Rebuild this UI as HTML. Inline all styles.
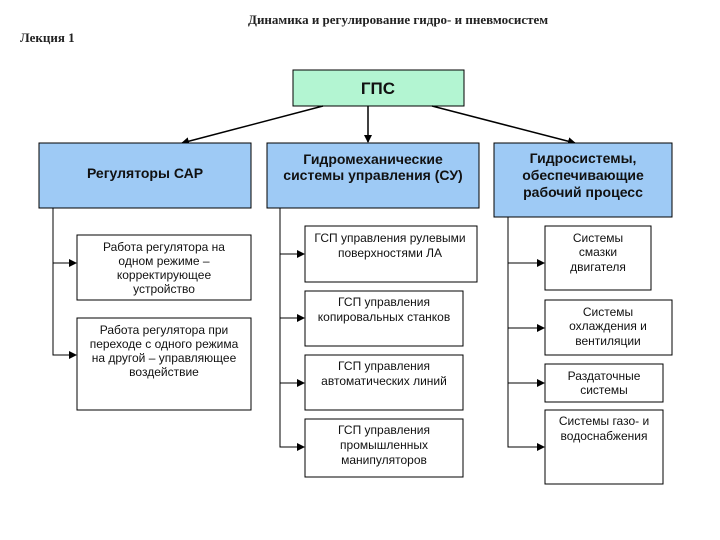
<!DOCTYPE html>
<html><head><meta charset="utf-8"><style>
body{margin:0;background:#fff;}
svg{display:block}
.s{font-family:"Liberation Sans","DejaVu Sans",sans-serif;font-size:12px;fill:#111;text-anchor:middle}
.b{font-family:"Liberation Sans","DejaVu Sans",sans-serif;font-size:14px;font-weight:bold;fill:#111;text-anchor:middle}
.t{font-family:"Liberation Serif","DejaVu Serif",serif;font-size:13px;font-weight:bold;fill:#222}
</style></head><body>
<svg width="720" height="540" viewBox="0 0 720 540">
<defs><marker id="a" markerWidth="8" markerHeight="8" refX="7" refY="4" orient="auto" markerUnits="userSpaceOnUse"><path d="M0,0 L8,4 L0,8 Z" fill="#000"/></marker></defs>
<text class="t" x="248" y="24">Динамика и регулирование гидро- и пневмосистем</text>
<text class="t" x="20" y="42">Лекция 1</text>
<rect x="293" y="70" width="171" height="36" fill="#b3f5d2" stroke="#000"/>
<text class="b" x="378" y="94" style="font-size:17px">ГПС</text>
<g stroke="#000" stroke-width="1.5" fill="none">
<line x1="323" y1="106" x2="182" y2="143" marker-end="url(#a)"/>
<line x1="368" y1="106" x2="368" y2="142" marker-end="url(#a)"/>
<line x1="432" y1="106" x2="575" y2="143" marker-end="url(#a)"/>
</g>
<g fill="#9ecaf5" stroke="#000">
<rect x="39" y="143" width="212" height="65"/>
<rect x="267" y="143" width="212" height="65"/>
<rect x="494" y="143" width="178" height="74"/>
</g>
<text class="b" x="145" y="178">Регуляторы САР</text>
<text class="b" x="373" y="164">Гидромеханические</text>
<text class="b" x="373" y="180">системы управления (СУ)</text>
<text class="b" x="583" y="163">Гидросистемы,</text>
<text class="b" x="583" y="180">обеспечивающие</text>
<text class="b" x="583" y="197">рабочий процесс</text>
<g stroke="#000" stroke-width="1" fill="none">
<polyline points="53,208 53,355 76,355"/>
<line x1="53" y1="263" x2="76" y2="263"/>
<polyline points="280,208 280,447 304,447"/>
<line x1="280" y1="254" x2="304" y2="254"/>
<line x1="280" y1="318" x2="304" y2="318"/>
<line x1="280" y1="383" x2="304" y2="383"/>
<polyline points="508,217 508,447 544,447"/>
<line x1="508" y1="263" x2="544" y2="263"/>
<line x1="508" y1="328" x2="544" y2="328"/>
<line x1="508" y1="383" x2="544" y2="383"/>
</g>
<g fill="#000">
<path d="M69,259 L77,263 L69,267Z"/><path d="M69,351 L77,355 L69,359Z"/>
<path d="M297,250 L305,254 L297,258Z"/><path d="M297,314 L305,318 L297,322Z"/>
<path d="M297,379 L305,383 L297,387Z"/><path d="M297,443 L305,447 L297,451Z"/>
<path d="M537,259 L545,263 L537,267Z"/><path d="M537,324 L545,328 L537,332Z"/>
<path d="M537,379 L545,383 L537,387Z"/><path d="M537,443 L545,447 L537,451Z"/>
</g>
<g fill="#fff" stroke="#000">
<rect x="77" y="235" width="174" height="65"/>
<rect x="77" y="318" width="174" height="92"/>
<rect x="305" y="226" width="172" height="56"/>
<rect x="305" y="291" width="158" height="55"/>
<rect x="305" y="355" width="158" height="55"/>
<rect x="305" y="419" width="158" height="58"/>
<rect x="545" y="226" width="106" height="64"/>
<rect x="545" y="300" width="127" height="55"/>
<rect x="545" y="364" width="118" height="38"/>
<rect x="545" y="410" width="118" height="74"/>
</g>
<g class="s">
<text x="164" y="251">Работа регулятора на</text>
<text x="164" y="265">одном режиме –</text>
<text x="164" y="279">корректирующее</text>
<text x="164" y="293">устройство</text>
<text x="164" y="334">Работа регулятора при</text>
<text x="164" y="348">переходе с одного режима</text>
<text x="164" y="362">на другой – управляющее</text>
<text x="164" y="376">воздействие</text>
<text x="390" y="242">ГСП управления рулевыми</text>
<text x="390" y="257">поверхностями ЛА</text>
<text x="384" y="306">ГСП управления</text>
<text x="384" y="321">копировальных станков</text>
<text x="384" y="370">ГСП управления</text>
<text x="384" y="385">автоматических линий</text>
<text x="384" y="434">ГСП управления</text>
<text x="384" y="449">промышленных</text>
<text x="384" y="464">манипуляторов</text>
<text x="598" y="242">Системы</text>
<text x="598" y="256">смазки</text>
<text x="598" y="271">двигателя</text>
<text x="608" y="316">Системы</text>
<text x="608" y="330">охлаждения и</text>
<text x="608" y="345">вентиляции</text>
<text x="604" y="380">Раздаточные</text>
<text x="604" y="394">системы</text>
<text x="604" y="425">Системы газо- и</text>
<text x="604" y="440">водоснабжения</text>
</g>
</svg>
</body></html>
